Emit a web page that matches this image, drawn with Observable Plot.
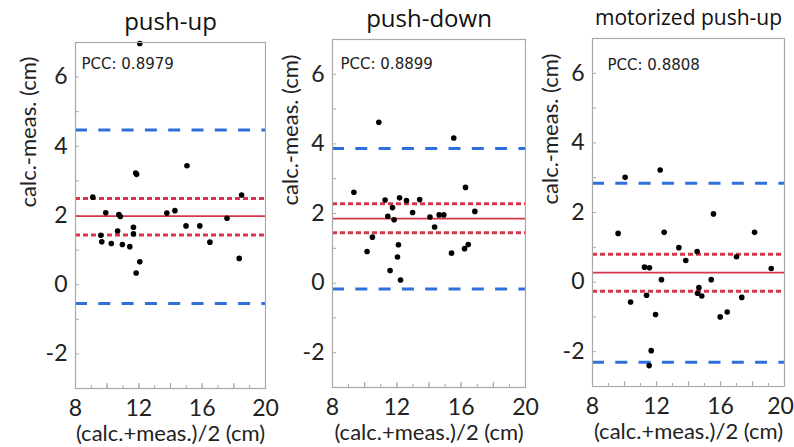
<!DOCTYPE html>
<html><head><meta charset="utf-8">
<script src="https://cdn.jsdelivr.net/npm/d3@7"></script>
<script src="https://cdn.jsdelivr.net/npm/@observablehq/plot@0.6"></script>
<style>
body{margin:0;background:#fff}
#wrap{position:relative;width:794px;height:447px;overflow:hidden;background:#fff}
#wrap svg{position:absolute;top:0}
</style></head><body><div id="wrap"></div>
<script>
// ---- data ----
const titles = ["push-up", "push-down", "motorized push-up"];
const pccLabels = ["PCC: 0.8979", "PCC: 0.8899", "PCC: 0.8808"];

const pushUpX = [12.06, 9.09, 9.91, 9.60, 9.66, 10.26, 10.74, 10.83, 10.66, 10.96, 11.43, 11.66, 11.66, 11.80, 11.86, 12.06, 11.83, 13.77, 14.28, 15.04, 14.98, 15.85, 16.49, 17.57, 18.49, 18.34];
const pushUpY = [6.97, 2.53, 2.08, 1.43, 1.24, 1.19, 2.03, 1.97, 1.55, 1.16, 1.10, 1.66, 1.47, 3.23, 3.19, 0.66, 0.34, 2.07, 2.14, 3.44, 1.70, 1.70, 1.23, 1.92, 2.59, 0.76];

const pushDownX = [10.88, 15.54, 9.33, 10.48, 10.15, 11.27, 11.44, 11.73, 11.83, 12.17, 12.60, 12.10, 12.04, 11.58, 12.23, 12.98, 13.42, 14.06, 14.35, 14.63, 14.92, 15.40, 16.27, 16.21, 16.44, 16.85];
const pushDownY = [4.62, 4.17, 2.61, 1.32, 0.91, 2.39, 1.92, 2.17, 1.82, 2.45, 2.37, 1.10, 0.75, 0.36, 0.09, 2.03, 2.40, 1.90, 1.61, 1.96, 1.96, 0.86, 2.75, 0.99, 1.11, 2.06];

const motorX = [10.04, 12.23, 9.60, 12.48, 15.56, 18.13, 13.40, 14.54, 13.83, 17.00, 11.25, 11.56, 19.17, 12.31, 15.42, 14.65, 14.56, 14.83, 11.38, 10.38, 17.33, 11.94, 16.42, 15.98, 11.67, 11.54];
const motorY = [3.01, 3.22, 1.40, 1.43, 1.96, 1.43, 0.99, 0.88, 0.62, 0.73, 0.43, 0.41, 0.39, 0.07, 0.07, -0.16, -0.32, -0.40, -0.38, -0.57, -0.44, -0.93, -0.86, -1.00, -1.97, -2.40];

const meanDiff = [1.98, 1.85, 0.27];
const ciUpper  = [2.49, 2.28, 0.80];
const ciLower  = [1.44, 1.45, -0.26];
const loaUpper = [4.47, 3.87, 2.84];
const loaLower = [-0.54, -0.17, -2.30];

const xTickLabels = [8, 12, 16, 20];
const yTickLabels = [-2, 0, 2, 4, 6];
const xMinorTicks = d3.range(9, 20, 1);
const xMajorTicks = d3.range(10, 20, 2);
const yMinorTicks = d3.range(-2, 7, 1);
const xLabel = "(calc.+meas.)/2 (cm)";
const yLabel = "calc.-meas. (cm)";

const seriesX = [pushUpX, pushDownX, motorX];
const seriesY = [pushUpY, pushDownY, motorY];

// ---- layout / style ----
const layout = [
  {left: 0,   width: 275, mL: 75, mR: 10, mT: 42, mB: 59, pdx: 6,  pdy: 22, tfs: 24, ydx: -47, lastDx: 0},
  {left: 275, width: 259, mL: 57, mR: 9,  mT: 39, mB: 60, pdx: 8,  pdy: 25, tfs: 24, ydx: -42, lastDx: 0},
  {left: 534, width: 260, mL: 58, mR: 10, mT: 38, mB: 61, pdx: 15, pdy: 27, tfs: 21, ydx: -42, lastDx: -4}
];
const blue = "#2f6fdc";
const red = "#d8364a";
const gray = "#a9a9a9";
const labelFont = "'Liberation Sans Narrow', Lato, 'Open Sans', sans-serif";

const wrap = document.getElementById("wrap");
layout.forEach((L, i) => {
  const pts = seriesX[i].map((x, j) => ({x, y: seriesY[i][j]}));
  const fw = L.width - L.mL - L.mR;
  const fh = 447 - L.mT - L.mB;
  const svg = Plot.plot({
    width: L.width, height: 447,
    marginLeft: L.mL, marginRight: L.mR, marginTop: L.mT, marginBottom: L.mB,
    x: {domain: [8, 20], axis: null},
    y: {domain: [-3, 7], axis: null},
    style: {background: "transparent", overflow: "visible"},
    marks: [
      // inner ticks
      Plot.tickX(xMinorTicks, {x: d => d, stroke: gray, strokeWidth: 1, insetTop: fh - 3}),
      Plot.tickX(xMajorTicks, {x: d => d, stroke: gray, strokeWidth: 1.2, insetTop: fh - 5}),
      Plot.tickY(yMinorTicks, {y: d => d, stroke: gray, strokeWidth: 1, insetRight: fw - 4}),
      // limits of agreement
      Plot.ruleY([loaUpper[i], loaLower[i]], {y: d => d, stroke: blue, strokeWidth: 3, strokeDasharray: "12,11.3"}),
      Plot.ruleY([ciUpper[i], ciLower[i]], {y: d => d, stroke: red, strokeWidth: 3, strokeDasharray: "5,3"}),
      Plot.ruleY([meanDiff[i]], {y: d => d, stroke: red, strokeWidth: 1.8}),
      Plot.dot(pts, {x: "x", y: "y", r: 2.8, fill: "black", stroke: "none"}),
      Plot.frame({stroke: gray, strokeWidth: 1.2}),
      // texts
      Plot.text([titles[i]], {text: d => d, frameAnchor: "top", lineAnchor: "middle", dy: -20, fontSize: L.tfs, fontFamily: "'Open Sans', sans-serif", fill: "#111"}),
      Plot.text([pccLabels[i]], {text: d => d, frameAnchor: "top-left", textAnchor: "start", lineAnchor: "middle", dx: L.pdx, dy: L.pdy, fontSize: 15, fontFamily: "'DejaVu Sans', sans-serif", fill: "#222"}),
      Plot.text(yTickLabels, {y: d => d, text: d => String(d), frameAnchor: "left", textAnchor: "end", lineAnchor: "middle", dx: -8, fontSize: 23, fontFamily: labelFont, fill: "#222"}),
      Plot.text(xTickLabels.slice(0, -1), {x: d => d, text: d => String(d), frameAnchor: "bottom", lineAnchor: "middle", dy: 20, fontSize: 23, fontFamily: labelFont, fill: "#222"}),
      Plot.text(xTickLabels.slice(-1), {x: d => d, text: d => String(d), frameAnchor: "bottom", lineAnchor: "middle", dy: 20, dx: L.lastDx, fontSize: 23, fontFamily: labelFont, fill: "#222"}),
      Plot.text([xLabel], {text: d => d, frameAnchor: "bottom", lineAnchor: "middle", dy: 45, fontSize: 22, fontFamily: labelFont, fill: "#222"}),
      Plot.text([yLabel], {text: d => d, frameAnchor: "left", lineAnchor: "middle", rotate: -90, dx: L.ydx, dy: -8, fontSize: 22, fontFamily: labelFont, fill: "#222"})
    ]
  });
  svg.style.left = L.left + "px";
  wrap.appendChild(svg);
});
</script>
</body></html>
